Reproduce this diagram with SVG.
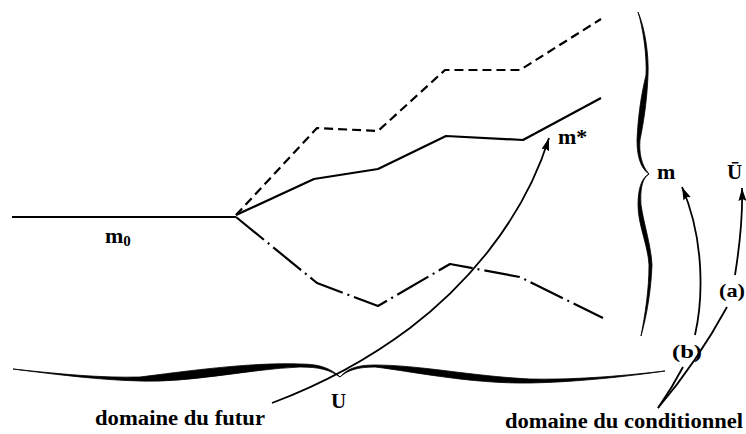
<svg xmlns="http://www.w3.org/2000/svg" width="746" height="434" viewBox="0 0 746 434">
<defs>
<style>
.ln{fill:none;stroke:#000;stroke-width:2.2;stroke-linejoin:round;stroke-linecap:butt}
.dash{stroke-dasharray:9 5}
.dd{stroke-dasharray:36 5 2 5}
.arr{fill:none;stroke:#000;stroke-width:1.8}
.br{fill:#000;stroke:#000;stroke-width:0.8;stroke-linejoin:round}
text{fill:#000;font-weight:bold}
</style>
<marker id="ah" markerUnits="userSpaceOnUse" markerWidth="14" markerHeight="10" refX="13" refY="4" orient="auto">
<path d="M0,0 L13,4 L0,8 L2,4 Z" fill="#000"/>
</marker>
</defs>
<rect width="746" height="434" fill="#fff"/>

<g id="curves">
<path id="m0-line" class="ln" d="M12,217 L236,217"/>
<path id="upper-dashed" class="ln dash" d="M236,215 L317,128 L378,131 L445,70 L520,70 L601,19"/>
<path id="m-star-line" class="ln" d="M236,215 L314,179 L378,169 L446,136 L523,140 L601,98"/>
<path id="lower-dashdot" class="ln dd" d="M236,217 L317,283 L378,306 L450,264 L520,277 L603,318"/>
</g>

<g id="braces">
<path id="brace-m" class="br" d="M638,12 C645,28 649,55 648,75 C647,100 644,120 640,140 C639,152 641,165 649,174 C642,178 640,190 641,205 C644,225 651,245 652,265 C651,290 647,315 641,336 C645,315 649,290 649,265 C648,245 638,225 638,205 C638,190 641,178 649,174 C640,168 637,155 637,140 C638,120 640,100 646,75 C647,55 643,28 638,12 Z"/>
<path id="brace-U" class="br" d="M13,369 C60,374 100,378 140,377 C180,372 250,362 300,364 C320,364 330,368 340,377 C348,368 358,365 375,365 C420,365 470,376 530,379 C580,380 630,375 665,371 C630,376 580,382 530,383 C470,384 410,371 375,367 C358,367 348,370 340,377 C330,370 320,367 300,367 C250,369 190,383 140,381 C100,380 60,375 13,369 Z"/>
</g>

<g id="connectors">
<path id="arrow-futur" class="arr" d="M272,403 C320,385 370,358 410,328 C460,290 522,225 549,138" marker-end="url(#ah)"/>
<path id="arrow-b-low" class="arr" d="M658,408 Q672,388 683,367"/>
<path id="arrow-b" class="arr" d="M695,335 C703,300 705,240 682,187" marker-end="url(#ah)"/>
<path id="arrow-a-low" class="arr" d="M658,408 Q697,362 727,307"/>
<path id="arrow-a" class="arr" d="M735,275 C739,250 743,220 742,188" marker-end="url(#ah)"/>
</g>

<g id="labels" font-family="'Liberation Serif', 'Times New Roman', 'DejaVu Serif', serif">
<text id="lbl-m0" x="105" y="243" font-size="22" font-family="'Liberation Serif', serif">m<tspan font-size="15" dy="3">0</tspan></text>
<text id="lbl-mstar" x="558" y="144" font-size="22" font-family="'Liberation Serif', serif">m*</text>
<text id="lbl-m" x="657" y="179" font-size="22" font-family="'Liberation Serif', serif">m</text>
<text id="lbl-Ubar" x="727" y="179" font-size="21" font-family="'Liberation Serif', serif">Ū</text>
<text id="lbl-U" x="331" y="408" font-size="21" font-family="'Liberation Serif', serif">U</text>
<text id="lbl-a" x="719" y="297" font-size="19" font-family="'Liberation Serif', serif" textLength="26" lengthAdjust="spacingAndGlyphs">(a)</text>
<text id="lbl-b" x="672" y="358" font-size="19" font-family="'Liberation Serif', serif" textLength="30" lengthAdjust="spacingAndGlyphs">(b)</text>
<text id="lbl-futur" x="95" y="425" font-size="20" font-family="'Liberation Serif', serif" textLength="170" lengthAdjust="spacingAndGlyphs">domaine du futur</text>
<text id="lbl-cond" x="505" y="428" font-size="20" font-family="'Liberation Serif', serif" textLength="238" lengthAdjust="spacingAndGlyphs">domaine du conditionnel</text>
</g>
</svg>
